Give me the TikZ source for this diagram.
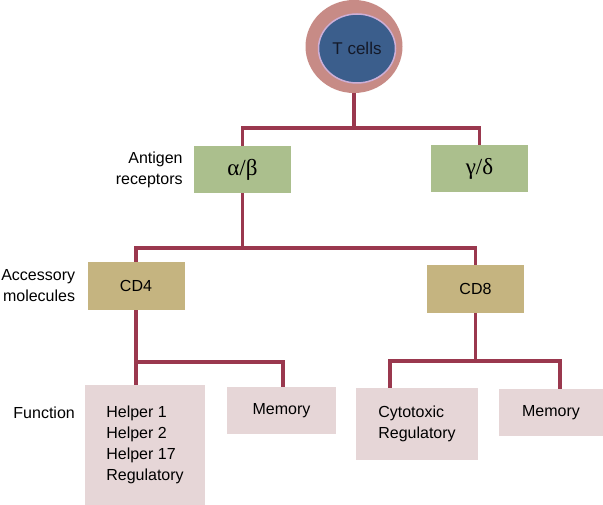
\documentclass[tikz,border=0pt]{standalone}
\usepackage{fontspec}
\setmainfont{Liberation Sans}
\newfontfamily\greekfont{Liberation Serif}
\usetikzlibrary{positioning, shapes.geometric}

\definecolor{linkred}{RGB}{154,56,78}
\definecolor{receptgreen}{RGB}{171,191,141}
\definecolor{moltan}{RGB}{197,180,128}
\definecolor{rolepink}{RGB}{230,214,215}
\definecolor{cellouter}{RGB}{199,139,134}
\definecolor{cellinner}{RGB}{59,94,140}
\definecolor{cellrim}{RGB}{205,175,215}
\definecolor{cellink}{RGB}{20,25,40}

\begin{document}
\begin{tikzpicture}[x=1pt, y=-1pt,
  font=\fontsize{16}{21}\selectfont,
  receptor/.style={rectangle, fill=receptgreen, minimum width=97pt, minimum height=47pt,
                   inner sep=0pt, font=\greekfont\fontsize{23}{26}\selectfont},
  molecule/.style={rectangle, fill=moltan, minimum width=97pt, minimum height=48pt, inner sep=0pt},
  role/.style={rectangle, fill=rolepink, inner sep=0pt, align=left},
  lbl/.style={inner sep=0pt, align=right},
  link/.style={draw=linkred, line width=3.6pt}
]
  \useasboundingbox (0,0) rectangle (603,505);

  % the cell
  \node[ellipse, fill=cellouter, minimum width=97pt, minimum height=93pt, inner sep=0pt] (outer) at (354,46.5) {};
  \node[ellipse, fill=cellinner, draw=cellrim, line width=1.5pt, minimum width=77pt, minimum height=69pt,
        inner sep=0pt, text=cellink, font=\fontsize{17}{21}\selectfont] (tcell) at (357,48.5) {T cells};

  % antigen receptors
  \node[receptor] (ab) at (242.5,169.5) {α/β};
  \node[receptor] (gd) at (479.5,169) {γ/δ};
  \node[lbl, left=11pt of ab] (antlbl) {Antigen\\receptors};

  % accessory molecules
  \node[molecule] (cd4) at (136,286) {CD4};
  \node[molecule] (cd8) at (475.5,289) {CD8};
  \node[lbl, left=12pt of cd4] (acclbl) {Accessory\\molecules};

  % function
  \node[role, minimum width=120pt, minimum height=120pt] (helper) at (145,445) {Helper 1\\Helper 2\\Helper 17\\Regulatory};
  \node[role, minimum width=109pt, minimum height=47pt] (memL) at (281.5,410.5) {Memory};
  \node[role, minimum width=122pt, minimum height=72pt] (cyto) at (417,424) {Cytotoxic\\Regulatory};
  \node[role, minimum width=104pt, minimum height=47pt] (memR) at (551,412.5) {Memory};
  \node[lbl, anchor=east] (fnlbl) at (75,413) {Function};

  \draw[link] (outer.south) -- ++(0,35) -| (ab.north);
  \draw[link] (outer.south) -- ++(0,35) -| (gd.north);

  \draw[link] (ab.south) -- ++(0,55) -| (cd4.north);
  \draw[link] (ab.south) -- ++(0,55) -| (cd8.north);

  \draw[link] (cd4.south) -- ++(0,52) -| ([xshift=-9pt]helper.north);
  \draw[link] (cd4.south) -- ++(0,52) -| ([xshift=1.5pt]memL.north);

  \draw[link] (cd8.south) -- ++(0,48) -| ([xshift=-27pt]cyto.north);
  \draw[link] (cd8.south) -- ++(0,48) -| ([xshift=9pt]memR.north);
\end{tikzpicture}
\end{document}
